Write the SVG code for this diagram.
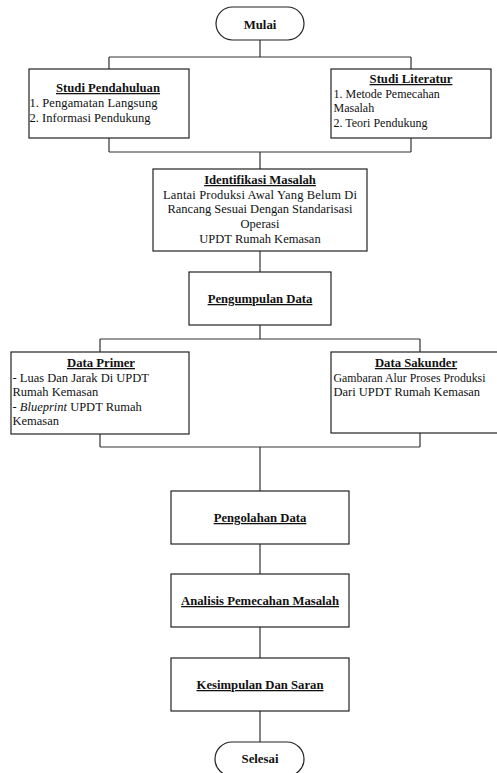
<svg xmlns="http://www.w3.org/2000/svg" width="497" height="773" viewBox="0 0 497 773">
<style>
  .box{fill:#fff;stroke:#222;stroke-width:1.2}
  .ln{fill:none;stroke:#333;stroke-width:1.2}
  text{font-family:"Liberation Serif","Times New Roman",serif;font-size:12.5px;fill:#111}
  .t{font-weight:bold;text-decoration:underline;font-size:12.7px}
  .b{font-weight:bold;font-size:12.8px}
  .c{text-anchor:middle}
  .s{font-size:12px}
</style>
<rect width="497" height="773" fill="#fff"/>
<g id="connectors">
  <path class="ln" d="M260,40 V57 M109,57 H411 M109,57 V69 M411,57 V69"/>
  <path class="ln" d="M109,138 V152 M411,138 V152 M109,152 H411 M260,152 V169"/>
  <path class="ln" d="M260,251 V272"/>
  <path class="ln" d="M260,325 V339 M100,339 H420 M100,339 V352 M420,339 V352"/>
  <path class="ln" d="M100,434 V447 M420,433 V447 M100,447 H420 M260,447 V491"/>
  <path class="ln" d="M260,544 V574 M260,627 V658 M260,711 V742"/>
</g>
<g id="mulai">
  <rect class="box" x="216" y="7" width="88" height="33" rx="16.5"/>
  <text class="b c" x="260" y="29">Mulai</text>
</g>
<g id="studi-pendahuluan">
  <rect class="box" x="29" y="69" width="160" height="69"/>
  <text class="t c" x="108" y="92">Studi Pendahuluan</text>
  <text x="29.5" y="107" textLength="128" lengthAdjust="spacing">1. Pengamatan Langsung</text>
  <text x="29.5" y="122" textLength="121" lengthAdjust="spacing">2. Informasi Pendukung</text>
</g>
<g id="studi-literatur">
  <rect class="box" x="331" y="69" width="160" height="69"/>
  <text class="t c" x="411" y="83">Studi Literatur</text>
  <text class="s" x="333.5" y="97.5">1. Metode Pemecahan</text>
  <text class="s" x="333.5" y="112">Masalah</text>
  <text class="s" x="333.5" y="127">2. Teori Pendukung</text>
</g>
<g id="identifikasi-masalah">
  <rect class="box" x="153" y="169" width="214" height="82"/>
  <text class="t c" x="260" y="184">Identifikasi Masalah</text>
  <text class="c" x="260" y="198.5" textLength="194" lengthAdjust="spacing">Lantai Produksi Awal Yang Belum Di</text>
  <text class="c" x="260" y="213">Rancang Sesuai Dengan Standarisasi</text>
  <text class="c" x="260" y="228">Operasi</text>
  <text class="c" x="260" y="243">UPDT Rumah Kemasan</text>
</g>
<g id="pengumpulan-data">
  <rect class="box" x="189" y="272" width="142" height="53"/>
  <text class="t c" x="260" y="303">Pengumpulan Data</text>
</g>
<g id="data-primer">
  <rect class="box" x="11" y="352" width="178" height="82"/>
  <text class="t c" x="101" y="367">Data Primer</text>
  <text x="12.5" y="381.5">- Luas Dan Jarak Di UPDT</text>
  <text x="12.5" y="396">Rumah Kemasan</text>
  <text x="12.5" y="410.5">- <tspan font-style="italic">Blueprint</tspan> UPDT Rumah</text>
  <text x="12.5" y="425">Kemasan</text>
</g>
<g id="data-sakunder">
  <rect class="box" x="331" y="352" width="170" height="81"/>
  <text class="t c" x="416" y="367">Data Sakunder</text>
  <text x="333.5" y="381.5" textLength="152" lengthAdjust="spacingAndGlyphs">Gambaran Alur Proses Produksi</text>
  <text x="333.5" y="396">Dari UPDT Rumah Kemasan</text>
</g>
<g id="pengolahan-data">
  <rect class="box" x="171" y="491" width="178" height="53"/>
  <text class="t c" x="260" y="522">Pengolahan Data</text>
</g>
<g id="analisis">
  <rect class="box" x="171" y="574" width="178" height="53"/>
  <text class="t c" x="260" y="605">Analisis Pemecahan Masalah</text>
</g>
<g id="kesimpulan">
  <rect class="box" x="171" y="658" width="178" height="53"/>
  <text class="t c" x="260" y="689">Kesimpulan Dan Saran</text>
</g>
<g id="selesai">
  <rect class="box" x="215" y="742" width="89" height="34" rx="17"/>
  <text class="b c" x="260" y="763">Selesai</text>
</g>
</svg>
